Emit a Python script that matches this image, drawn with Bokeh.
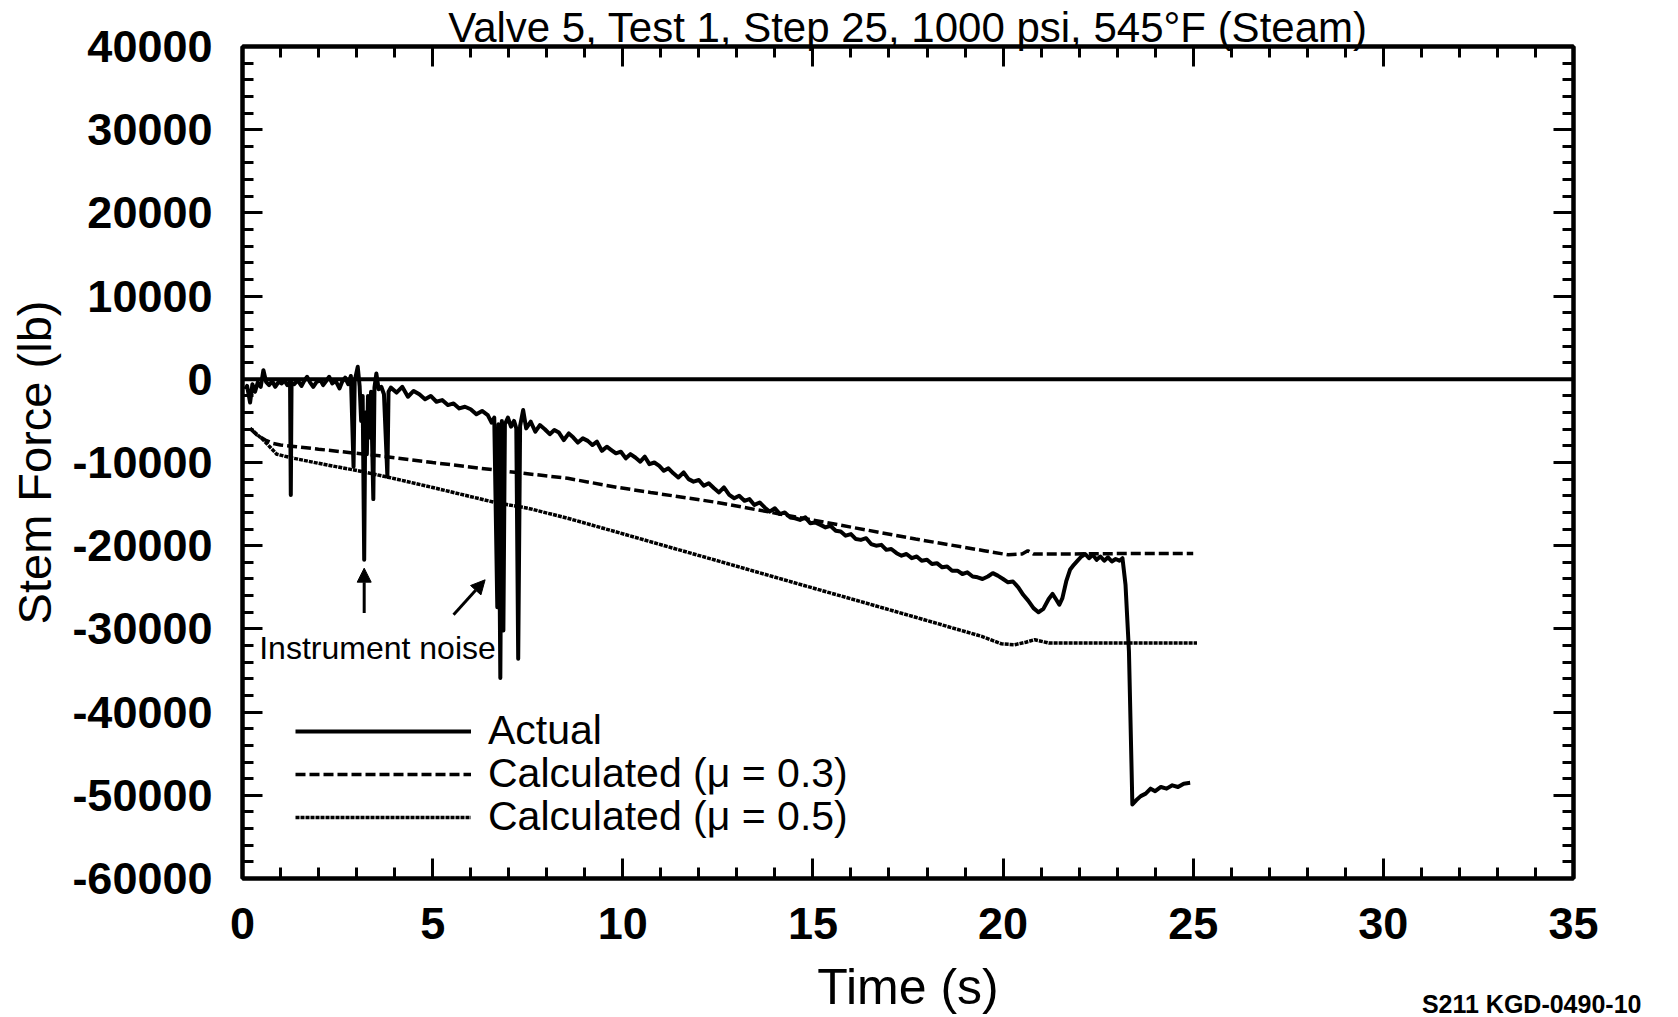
from bokeh.plotting import figure
from bokeh.models import (Range1d, SingleIntervalTicker, FixedTicker, LinearAxis, Span, Label,
                          Legend, LegendItem, Arrow, NormalHead, CustomJSTickFormatter)
from bokeh.embed import file_html
from bokeh.resources import INLINE

FONT = "Liberation Sans"

title_text = "Valve 5, Test 1, Step 25, 1000 psi, 545\u00b0F (Steam)"
x_label = "Time (s)"
y_label = "Stem Force (lb)"
series_names = ["Actual", "Calculated (\u03bc = 0.3)", "Calculated (\u03bc = 0.5)"]
note_text = "Instrument noise"
code_text = "S211 KGD-0490-10"

# Actual measured stem force (s, lb)
actual_t = [0.07, 0.12, 0.20, 0.26, 0.33, 0.40, 0.48, 0.55, 0.62, 0.70, 0.78, 0.86, 0.95,
            1.03, 1.10, 1.18, 1.25, 1.27, 1.29, 1.36, 1.45, 1.55, 1.62, 1.70, 1.78, 1.86,
            1.95, 2.05, 2.12, 2.20, 2.28, 2.36, 2.45, 2.55, 2.62, 2.70, 2.78, 2.85, 2.92,
            2.95, 3.03, 3.08, 3.12, 3.16, 3.20, 3.23, 3.27, 3.30, 3.34, 3.38, 3.44, 3.47,
            3.52, 3.58, 3.65, 3.72, 3.81, 3.84, 3.90, 4.05, 4.20, 4.35, 4.50, 4.65, 4.80,
            4.95, 5.10, 5.25, 5.40, 5.55, 5.70, 5.85, 6.00, 6.15, 6.30, 6.45, 6.55, 6.62,
            6.70, 6.73, 6.78, 6.82, 6.86, 6.90, 6.98, 7.06, 7.14, 7.20, 7.25, 7.30, 7.38,
            7.46, 7.58, 7.70, 7.82, 7.95, 8.08, 8.20, 8.32, 8.45, 8.58, 8.70, 8.82, 8.95,
            9.08, 9.20, 9.32, 9.45, 9.58, 9.70, 9.82, 9.95, 10.08, 10.20, 10.33, 10.46,
            10.58, 10.70, 10.83, 10.96, 11.08, 11.20, 11.33, 11.46, 11.60, 11.73, 11.86,
            12.00, 12.13, 12.26, 12.40, 12.53, 12.66, 12.80, 12.93, 13.06, 13.20, 13.33,
            13.46, 13.60, 13.73, 13.86, 14.00, 14.13, 14.26, 14.40, 14.53, 14.66, 14.80,
            14.93, 15.06, 15.20, 15.33, 15.46, 15.60, 15.73, 15.86, 16.00, 16.13, 16.26,
            16.40, 16.53, 16.66, 16.80, 16.93, 17.06, 17.20, 17.33, 17.46, 17.60, 17.73,
            17.86, 18.00, 18.13, 18.26, 18.40, 18.53, 18.66, 18.80, 18.93, 19.06, 19.20,
            19.33, 19.46, 19.60, 19.73, 19.86, 20.00, 20.13, 20.26, 20.40, 20.53, 20.66,
            20.80, 20.93, 21.06, 21.20, 21.30, 21.40, 21.48, 21.56, 21.66, 21.76, 21.86,
            21.96, 22.06, 22.16, 22.26, 22.36, 22.46, 22.56, 22.66, 22.76, 22.86, 22.96,
            23.06, 23.14, 23.22, 23.31, 23.40, 23.50, 23.62, 23.75, 23.88, 24.00, 24.15,
            24.30, 24.45, 24.60, 24.75, 24.92]
actual_f = [-1200, -800, -2800, -600, -1500, -400, -900, 1100, -300, -700, -200, -900, -300,
            -500, -100, -700, -300, -13900, -400, -600, -100, -800, -200, 300, -400, -900,
            -300, -100, -700, -200, 300, -500, -200, -1100, -300, 200, -600, 400, -10500,
            -200, 1500, -800, -5000, -2000, -21700, -4000, -9000, -2000, -7000, -1500, -14400, -1000,
            700, -1200, -900, -1800, -11700, -1500, -1000, -1600, -900, -2100, -1400, -1800, -2400,
            -2000, -2700, -2500, -3100, -2900, -3500, -3300, -3600, -4200, -3800, -4300, -5200, -4600,
            -27400, -5400, -35900, -5000, -30200, -5400, -4600, -5700, -5000, -5900, -33600, -5600, -3700,
            -5900, -5100, -6300, -5500, -6000, -6600, -6100, -6400, -7300, -6500, -7000, -7600, -7100,
            -7400, -7900, -7500, -8600, -8100, -8500, -8900, -8700, -9500, -9000, -9400, -9900,
            -9300, -10200, -10000, -10400, -11000, -10700, -11300, -11800, -11200, -12000, -12300,
            -12100, -12800, -12500, -13100, -13600, -13000, -13900, -14300, -14000, -14600, -14400,
            -15100, -14800, -15400, -15900, -15500, -16200, -16000, -16600, -16700, -16900, -16600,
            -17300, -17200, -17500, -17800, -17600, -18200, -18300, -18800, -18600, -19200, -19300,
            -19100, -19800, -20000, -19900, -20500, -20400, -20900, -21200, -21000, -21500, -21300,
            -21800, -21700, -22200, -22100, -22600, -22500, -23000, -23000, -23400, -23200, -23700,
            -23800, -24000, -23700, -23300, -23600, -24000, -24400, -24300, -25000, -25900, -26600,
            -27500, -28000, -27600, -26400, -25800, -26500, -27100, -26300, -24300, -22900, -22300,
            -21800, -21300, -21000, -21500, -21100, -21700, -21300, -21800, -21400, -21900, -21600,
            -21800, -21500, -24700, -32700, -51100, -50600, -50100, -49800, -49200, -49500, -49000,
            -49200, -48800, -49000, -48600, -48500]

# Calculated, mu = 0.3
calc03_t = [0.20, 0.38, 0.60, 0.80, 1.00, 1.42, 2.00, 3.00, 3.60, 5.00, 6.64, 8.55, 9.87,
            10.73, 12.48, 15.09, 17.70, 19.50, 20.14, 20.50, 20.65, 20.80, 21.50, 23.00, 25.00]
calc03_f = [-5900, -6700, -7300, -7700, -7900, -8100, -8400, -8900, -9200, -10000, -10900,
            -11900, -13000, -13600, -14800, -17000, -19200, -20600, -21100, -21000, -20600,
            -21000, -21000, -20950, -20950]

# Calculated, mu = 0.5
calc05_t = [0.20, 0.55, 0.90, 1.25, 2.00, 3.16, 3.86, 5.00, 6.64, 7.51, 8.55, 9.87, 12.48,
            15.09, 17.70, 19.44, 19.96, 20.30, 20.60, 20.83, 21.20, 25.10]
calc05_f = [-5900, -7300, -9000, -9400, -10100, -11100, -11800, -13000, -14800, -15500,
            -16700, -18400, -21800, -25200, -28600, -30900, -31800, -31900, -31600, -31300,
            -31700, -31700]

x_min, x_max = 0, 35
y_min, y_max = -60000, 40000
code_x = 33.9

p = figure(width=1678, height=1017, output_backend="svg", toolbar_location=None,
           x_range=Range1d(x_min, x_max), y_range=Range1d(y_min, y_max),
           min_border_left=242, min_border_right=105, min_border_top=44, min_border_bottom=138,
           background_fill_color="white", border_fill_color="white")
p.grid.visible = False
p.outline_line_color = "black"
p.outline_line_width = 4

blank = CustomJSTickFormatter(code="return ''")
plain = CustomJSTickFormatter(code="return tick.toString()")


def style_axis(ax, ticker, show_labels):
    ax.ticker = ticker
    ax.axis_line_color = "black"
    ax.axis_line_width = 4
    ax.major_tick_in = 20
    ax.major_tick_out = 0
    ax.minor_tick_in = 11
    ax.minor_tick_out = 0
    ax.major_tick_line_width = 3
    ax.minor_tick_line_width = 3
    ax.major_tick_line_color = "black"
    ax.minor_tick_line_color = "black"
    if show_labels:
        ax.formatter = plain
        ax.major_label_text_font = FONT
        ax.major_label_text_font_size = "45px"
        ax.major_label_text_font_style = "bold"
        ax.major_label_text_color = "black"
    else:
        ax.formatter = blank
        ax.major_label_standoff = 0


style_axis(p.xaxis[0], SingleIntervalTicker(interval=5, num_minor_ticks=5), True)
style_axis(p.yaxis[0], SingleIntervalTicker(interval=10000, num_minor_ticks=5), True)
p.xaxis[0].major_label_standoff = 29
p.yaxis[0].major_label_standoff = 30
p.yaxis[0].axis_label = y_label
p.yaxis[0].axis_label_text_font = FONT
p.yaxis[0].axis_label_text_font_size = "47px"
p.yaxis[0].axis_label_text_font_style = "normal"
p.yaxis[0].axis_label_text_color = "black"
p.yaxis[0].axis_label_standoff = 8

# top axis carries the chart title as its label
top_ax = LinearAxis()
style_axis(top_ax, SingleIntervalTicker(interval=5, num_minor_ticks=5), False)
top_ax.axis_label = title_text
top_ax.axis_label_text_font = FONT
top_ax.axis_label_text_font_size = "42px"
top_ax.axis_label_text_font_style = "normal"
top_ax.axis_label_text_color = "black"
top_ax.axis_label_standoff = -4
p.add_layout(top_ax, "above")

right_ax = LinearAxis()
style_axis(right_ax, SingleIntervalTicker(interval=10000, num_minor_ticks=5), False)
p.add_layout(right_ax, "right")

# second bottom axis: figure code as a tick label, "Time (s)" as axis label
code_ax = LinearAxis(ticker=FixedTicker(ticks=[code_x]),
                     major_label_overrides={code_x: code_text})
code_ax.axis_line_color = None
code_ax.major_tick_in = 0
code_ax.major_tick_out = 0
code_ax.minor_tick_in = 0
code_ax.minor_tick_out = 0
code_ax.major_label_text_font = FONT
code_ax.major_label_text_font_size = "25px"
code_ax.major_label_text_font_style = "bold"
code_ax.major_label_text_color = "black"
code_ax.major_label_standoff = 48
code_ax.axis_label = x_label
code_ax.axis_label_text_font = FONT
code_ax.axis_label_text_font_size = "50px"
code_ax.axis_label_text_font_style = "normal"
code_ax.axis_label_text_color = "black"
code_ax.axis_label_standoff = -62
p.add_layout(code_ax, "below")

r05 = p.line(calc05_t, calc05_f, line_color="black", line_width=3.5, line_dash="4 1")
r03 = p.line(calc03_t, calc03_f, line_color="black", line_width=3.5, line_dash="10 4")
ract = p.line(actual_t, actual_f, line_color="black", line_width=4, line_join="round")

p.add_layout(Span(location=0, dimension="width", line_color="black", line_width=4))

legend_rows = [(ract, 124), (r03, 81), (r05, 38)]
for (rend, ypos), name in zip(legend_rows, series_names):
    lg = Legend(items=[LegendItem(label=name, renderers=[rend])],
                location=(53, ypos), glyph_width=176, glyph_height=36, label_height=36,
                label_standoff=17, spacing=0, padding=0, margin=0,
                background_fill_alpha=0, border_line_alpha=0,
                label_text_font=FONT, label_text_font_size="41px", label_text_color="black")
    p.add_layout(lg, "center")

p.add_layout(Label(x=3.55, y=-32300, text=note_text, text_font=FONT, text_font_size="32px",
                   text_align="center", text_baseline="alphabetic", text_color="black"))

p.add_layout(Arrow(end=NormalHead(size=14, fill_color="black", line_color="black"),
                   x_start=3.2, y_start=-28100, x_end=3.2, y_end=-22700,
                   line_color="black", line_width=3))
p.add_layout(Arrow(end=NormalHead(size=14, fill_color="black", line_color="black"),
                   x_start=5.55, y_start=-28300, x_end=6.38, y_end=-24100,
                   line_color="black", line_width=3))

open("out.html", "w").write(file_html(p, INLINE))
